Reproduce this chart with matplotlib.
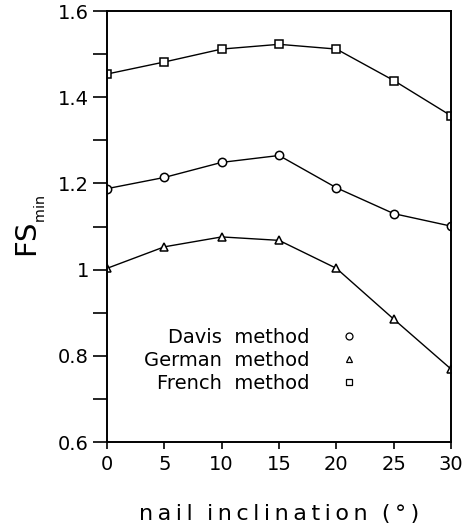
import matplotlib
matplotlib.use("Agg")
import matplotlib.pyplot as plt
from matplotlib.lines import Line2D

inclination = [0, 5, 10, 15, 20, 25, 30]
davis = [1.188, 1.214, 1.249, 1.265, 1.190, 1.130, 1.101]
german = [1.003, 1.053, 1.076, 1.068, 1.003, 0.885, 0.769]
french = [1.454, 1.482, 1.512, 1.523, 1.512, 1.439, 1.357]
labels = ["Davis  method", "German  method", "French  method"]
xticks = [0, 5, 10, 15, 20, 25, 30]
yticks = [0.6, 0.8, 1.0, 1.2, 1.4, 1.6]
yticklabels = ["0.6", "0.8", "1", "1.2", "1.4", "1.6"]
xlabel = "nail inclination (°)"

plt.rcParams['font.family'] = ['DejaVu Sans']
fig = plt.figure(figsize=(4.69, 5.31), dpi=100)
ax = fig.add_axes([0.228, 0.1676, 0.734, 0.8114])

kw = dict(color='black', lw=1.0, mfc='white', mec='black', mew=1.1)
ax.plot(inclination, davis, marker='o', ms=6, **kw)
ax.plot(inclination, german, marker='^', ms=6, **kw)
ax.plot(inclination, french, marker='s', ms=5.5, **kw)

ax.set_xlim(0, 30)
ax.set_ylim(0.6, 1.6)
ax.set_xticks(xticks)
ax.set_yticks(yticks)
ax.set_yticklabels(yticklabels)
ax.set_yticks([0.7, 0.9, 1.1, 1.3, 1.5], minor=True)
ax.tick_params(axis='y', which='both', direction='out', length=10, width=1.2,
               labelsize=14, pad=3)
ax.tick_params(axis='x', which='major', direction='out', length=5, width=1.2,
               labelsize=14, pad=4)
for s in ax.spines.values():
    s.set_linewidth(1.4)

spaced = "  ".join("\u2009".join(w) for w in xlabel.split(" "))
ax.set_xlabel(spaced, fontsize=16, labelpad=22)
ax.set_ylabel(r"FS$_{_{\mathregular{min}}}$", fontsize=21, labelpad=7)

handles = [Line2D([], [], ls='none', marker=m, ms=ms, mfc='white', mec='black', mew=0.9)
           for m, ms in (('o', 5), ('^', 4.5), ('s', 4.5))]
ax.legend(handles, labels, loc='center', bbox_to_anchor=(0.42, 0.19),
          frameon=False, markerfirst=False, handlelength=1.0, handletextpad=1.5,
          labelspacing=0.2, fontsize=14)

fig.savefig("out.png", dpi=100)
